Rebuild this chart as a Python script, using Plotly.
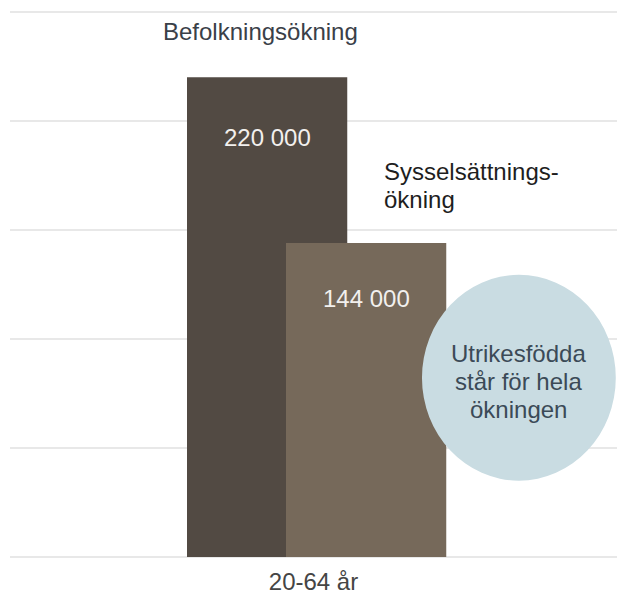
import plotly.graph_objects as go

category = ["20-64 år"]
series_names = ["Befolkningsökning", "Sysselsättningsökning"]
values = [220000, 144000]
value_labels = ["220 000", "144 000"]
bar_colors = ["#524a43", "#76695a"]
employment_label_lines = ["Sysselsättnings-", "ökning"]
circle_lines = ["Utrikesfödda", "står för hela", "ökningen"]

FONT = "Liberation Sans, Arial, sans-serif"
FS = 24
LINE = 28
bar_width = 0.264
offsets = [-0.2084, -0.0453]
centers = [o + bar_width / 2 for o in offsets]

fig = go.Figure()
for name, v, col, off in zip(series_names, values, bar_colors, offsets):
    fig.add_trace(go.Bar(
        x=category, y=[v], name=name, width=bar_width, offset=off,
        marker=dict(color=col, line=dict(width=0)), showlegend=False,
        hoverinfo="skip",
    ))

annotations = [
    dict(x=centers[0], y=values[0] - 27500, text=value_labels[0], showarrow=False,
         font=dict(family=FONT, size=FS, color="#f2f0ee"), xanchor="center", yanchor="middle"),
    dict(x=centers[1], y=values[1] - 25500, text=value_labels[1], showarrow=False,
         font=dict(family=FONT, size=FS, color="#f2f0ee"), xanchor="center", yanchor="middle"),
    dict(x=centers[0], xshift=-7, y=241000, text=series_names[0], showarrow=False,
         font=dict(family=FONT, size=FS, color="#3a4048"), xanchor="center", yanchor="middle"),
]
for i, line in enumerate(employment_label_lines):
    annotations.append(dict(x=0.1125, y=177000, yshift=-LINE * i, text=line, showarrow=False,
                            font=dict(family=FONT, size=FS, color="#1e1e1e"),
                            xanchor="left", yanchor="middle"))
for i, line in enumerate(circle_lines):
    annotations.append(dict(x=0.337, y=93500, yshift=-LINE * i, text=line, showarrow=False,
                            font=dict(family=FONT, size=FS, color="#3b4a57"),
                            xanchor="center", yanchor="middle"))

fig.add_shape(type="circle", xref="x", yref="y", x0=0.1787, x1=0.498, y0=35000, y1=129400,
              fillcolor="#c9dce2", line=dict(width=0), layer="above")

fig.update_layout(
    width=617, height=594,
    margin=dict(l=10, r=0, t=1, b=37, autoexpand=False),
    paper_bgcolor="white", plot_bgcolor="white",
    barmode="overlay",
    annotations=annotations,
    xaxis=dict(range=[-0.5, 0.5], showgrid=False, zeroline=False, showline=False,
               automargin=False, ticks="outside", ticklen=3, tickcolor="rgba(0,0,0,0)",
               tickfont=dict(family=FONT, size=FS, color="#454545")),
    yaxis=dict(range=[0, 255000], dtick=50000, showticklabels=False, showgrid=True,
               automargin=False,
               gridcolor="#e8e8e8", gridwidth=2, zeroline=True, zerolinecolor="#e8e8e8",
               zerolinewidth=2, showline=False),
)

fig.write_html("out.html", config={"displayModeBar": False},
               post_script="document.body.style.margin='0';document.body.style.overflow='hidden';")
